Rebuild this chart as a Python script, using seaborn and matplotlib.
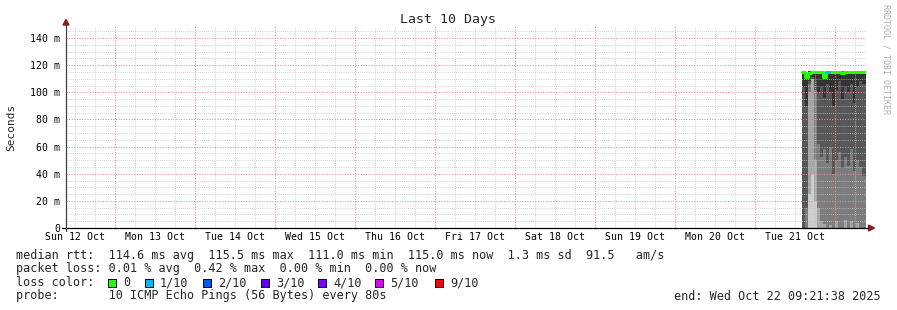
import numpy as np
import pandas as pd
import matplotlib
matplotlib.use("Agg")
import matplotlib.pyplot as plt
import seaborn as sns
from matplotlib.patches import Rectangle, Polygon
from matplotlib.lines import Line2D

# ---------------- data ----------------
day_labels = ["Sun 12 Oct", "Mon 13 Oct", "Tue 14 Oct", "Wed 15 Oct", "Thu 16 Oct",
              "Fri 17 Oct", "Sat 18 Oct", "Sun 19 Oct", "Mon 20 Oct", "Tue 21 Oct"]
y_ticks = [0, 20, 40, 60, 80, 100, 120, 140]
y_tick_labels = ["0", "20 m", "40 m", "60 m", "80 m", "100 m", "120 m", "140 m"]

origin = pd.Timestamp("2025-10-12 00:00:00")
view_start = pd.Timestamp("2025-10-12 09:21:38")
view_end = pd.Timestamp("2025-10-22 09:21:38")
step_start = pd.date_range("2025-10-21 14:06", periods=21, freq="54min")

# smoke layer tops (ms), bottom-up
lightest_top = [0, 0, 25, 40, 20, 0, 0, 0, 0, 0, 0, 0, 0, 0, 0, 0, 0, 0, 0, 0, 0]
light_top    = [0, 0, 100, 110, 50, 15, 5, 3, 0, 2, 0, 5, 0, 0, 6, 0, 5, 0, 4, 0, 0]
gray_top     = [0, 15, 106, 110, 102, 62, 52, 58, 48, 60, 40, 50, 56, 44, 52, 46, 58, 42, 50, 45, 38]
mid_top      = [104, 90, 108, 111, 108, 100, 104, 96, 106, 100, 90, 102, 108, 95, 104, 100, 106, 92, 104, 108, 106]
dark_top     = [115.5, 111.5, 115.5, 115.5, 115.5, 115.5, 115.5, 112, 115.5, 115.5, 115.5, 115.5,
                115.5, 115.5, 115.5, 115.5, 115.5, 115.5, 115.5, 115.5, 115.5]
median_ms    = [115.3, 111.0, 114.5, 114.6, 114.6, 114.7, 114.6, 111.6, 115.2, 114.8, 114.6,
                114.7, 114.6, 114.5, 114.6, 114.7, 114.6, 114.6, 114.7, 114.6, 115.0]
loss_tenths  = [0, 0, 0, 0, 0, 0, 0, 0, 1, 0, 0, 0, 0, 0, 0, 0, 0, 0, 0, 0, 0]

loss_levels = [0, 1, 2, 3, 4, 5, 9]
loss_names = ["0", "1/10", "2/10", "3/10", "4/10", "5/10", "9/10"]
loss_colors = ["#26ff00", "#00b8ff", "#0059ff", "#5e00ff", "#7e00ff", "#dd00ff", "#ff0000"]

# ---------------- figure ----------------
sns.set_style("white")
plt.rcParams["font.family"] = ["DejaVu Sans Mono"]

W, H = 897, 310
fig = plt.figure(figsize=(W / 100, H / 100), dpi=100)
fig.patch.set_facecolor("white")
ax = fig.add_axes([66 / W, 1 - 228 / H, 800 / W, (228 - 26) / H])
ax.set_facecolor("white")

def days(ts):
    return (ts - origin) / pd.Timedelta(days=1)

x0, x1 = days(view_start), days(view_end)
ax.set_xlim(x0, x1)
ax.set_ylim(0, (228 - 26) / (190 / 140))

xs = list(days(step_start)) + [x1]

def ext(a):
    return list(a) + [a[-1]]

layers = [
    (np.zeros(len(xs)), ext(lightest_top), "#cdcdcd"),
    (ext(lightest_top), ext(light_top), "#a6a6a6"),
    (ext(light_top), ext(gray_top), "#7d7d7d"),
    (ext(gray_top), ext(mid_top), "#575757"),
    (ext(mid_top), ext(dark_top), "#333333"),
]
for lo, hi, c in layers:
    lo = np.asarray(lo, float)
    hi = np.maximum(np.asarray(hi, float), lo)
    ax.fill_between(xs, lo, hi, step="post", color=c, lw=0, zorder=1)

# grid (drawn over the smoke like rrdtool)
minor_c = "#c4c4c4"
major_c = "#f08c8c"
dot = (0, (1, 1.5))
for d in np.arange(0.5, 10.4, 0.25):
    if abs(d - round(d)) > 1e-6 and x0 < d < x1:
        ax.axvline(d, color=minor_c, lw=0.6, ls=dot, zorder=3)
for v in range(5, 150, 5):
    if v % 20:
        ax.axhline(v, color=minor_c, lw=0.6, ls=dot, zorder=3)
for d in range(1, 11):
    ax.axvline(d, color=major_c, lw=0.75, ls=dot, zorder=3)
for v in y_ticks[1:]:
    ax.axhline(v, color=major_c, lw=0.75, ls=dot, zorder=3)

# median line coloured by loss
green = loss_colors[0]
sns.lineplot(x=xs, y=ext(median_ms), drawstyle="steps-post", color=green,
             lw=2.2, estimator=None, sort=False, ax=ax, zorder=4)
for i, l in enumerate(loss_tenths):
    if l > 0:
        c = loss_colors[loss_levels.index(l)]
        sns.lineplot(x=[xs[i], xs[i + 1]], y=[median_ms[i], median_ms[i]], color=c,
                     lw=2.2, estimator=None, ax=ax, zorder=5)

for s in ax.spines.values():
    s.set_visible(False)

ax.set_xticks([d + 0.5 for d in range(10)])
ax.set_xticklabels(day_labels)
ax.tick_params(axis="x", length=0, pad=3.2, labelsize=7.1, colors="black")
ax.set_yticks(y_ticks)
ax.set_yticklabels(y_tick_labels)
ax.tick_params(axis="y", length=3, width=0.7, pad=1.4, labelsize=7.1, colors="#333333",
               labelcolor="black")
ax.set_xlabel("")
ax.set_ylabel("")

def fx(px):
    return px / W

def fy(py):
    return 1 - py / H

# axis lines and arrows
fig.add_artist(Line2D([fx(62), fx(868)], [fy(228), fy(228)], color="black", lw=0.9))
fig.add_artist(Line2D([fx(66), fx(66)], [fy(231), fy(24)], color="#404040", lw=0.9))
fig.add_artist(Polygon([[fx(66), fy(19.5)], [fx(63), fy(25)], [fx(69), fy(25)]],
                       closed=True, color="#8b1a1a", transform=fig.transFigure))
fig.add_artist(Polygon([[fx(874.5), fy(228)], [fx(868.5), fy(225)], [fx(868.5), fy(231)]],
                       closed=True, color="#8b1a1a", transform=fig.transFigure))

# texts
fig.text(fx(448), fy(19), "Last 10 Days", ha="center", va="center", fontsize=9.5)
fig.text(fx(11), fy(127), "Seconds", ha="center", va="center", rotation=90, fontsize=8)
fig.text(fx(886), fy(59), "RRDTOOL / TOBI OETIKER", ha="center", va="center",
         rotation=270, fontsize=6, color="#b0b0b0")

fs = 8.5
fig.text(fx(16), fy(255), "median rtt:  114.6 ms avg  115.5 ms max  111.0 ms min  "
         "115.0 ms now  1.3 ms sd  91.5   am/s", ha="left", va="center", fontsize=fs)
fig.text(fx(16), fy(268.5), "packet loss: 0.01 % avg  0.42 % max  0.00 % min  0.00 % now",
         ha="left", va="center", fontsize=fs)
fig.text(fx(16), fy(282.5), "loss color:", ha="left", va="center", fontsize=fs)
text_x = [123, 160, 218, 276, 333, 390, 450]
for tx, name, c in zip(text_x, loss_names, loss_colors):
    fig.text(fx(tx), fy(282.5), name, ha="left", va="center", fontsize=fs)
    fig.add_artist(Rectangle((fx(tx - 15), fy(286.5)), 8 / W, 8 / H, facecolor=c,
                             edgecolor="black", lw=0.7, transform=fig.transFigure))
fig.text(fx(16), fy(296), "probe:       10 ICMP Echo Pings (56 Bytes) every 80s",
         ha="left", va="center", fontsize=fs)
fig.text(fx(881), fy(296), "end: Wed Oct 22 09:21:38 2025", ha="right", va="center",
         fontsize=fs)

fig.savefig("out.png", dpi=100, facecolor="white")
